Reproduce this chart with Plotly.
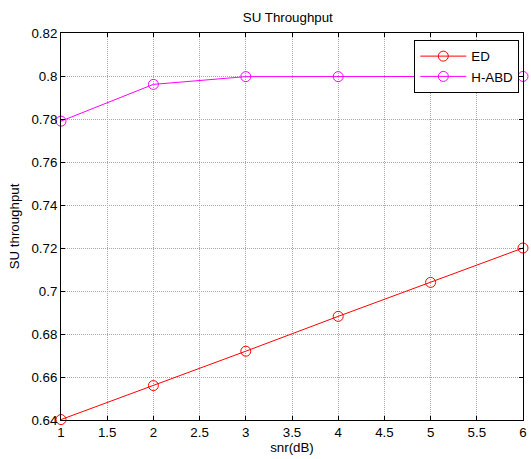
import plotly.graph_objects as go

snr = [1, 2, 3, 4, 5, 6]
ed = [0.6402, 0.6560, 0.6720, 0.6882, 0.7040, 0.7200]
habd = [0.7790, 0.7961, 0.7997, 0.7997, 0.7998, 0.7998]

x_ticks = [1, 1.5, 2, 2.5, 3, 3.5, 4, 4.5, 5, 5.5, 6]
x_text = ["1", "1.5", "2", "2.5", "3", "3.5", "4", "4.5", "5", "5.5", "6"]
y_ticks = [0.64, 0.66, 0.68, 0.70, 0.72, 0.74, 0.76, 0.78, 0.80, 0.82]
y_text = ["0.64", "0.66", "0.68", "0.7", "0.72", "0.74", "0.76", "0.78", "0.8", "0.82"]

FS = 13.3

fig = go.Figure()
fig.add_trace(go.Scatter(
    x=snr, y=ed, name="ED", mode="lines+markers",
    line=dict(color="#ff0000", width=1),
    marker=dict(symbol="circle-open", size=10, color="#ff0000", line=dict(width=1)),
    cliponaxis=False,
))
fig.add_trace(go.Scatter(
    x=snr, y=habd, name="H-ABD", mode="lines+markers",
    line=dict(color="#ff00ff", width=1),
    marker=dict(symbol="circle-open", size=10, color="#ff00ff", line=dict(width=1)),
    cliponaxis=False,
))

axis_common = dict(
    showline=True, linecolor="black", linewidth=1, mirror="ticks",
    ticks="inside", ticklen=4, tickcolor="black",
    showgrid=True, gridcolor="#a8a8a8", griddash="1px,1px", gridwidth=1,
    zeroline=False,
    tickfont=dict(family="Liberation Sans, Arial, sans-serif", size=FS, color="black"),
)

fig.update_layout(
    width=531, height=459,
    margin=dict(l=61, r=4, t=33, b=39),
    paper_bgcolor="white", plot_bgcolor="white",
    font=dict(family="Liberation Sans, Arial, sans-serif", size=FS, color="black"),
    title=dict(text="SU Throughput", x=0.542, xanchor="center", y=0.962, yanchor="middle",
               font=dict(size=FS, color="black")),
    showlegend=True,
    legend=dict(x=0.992, xanchor="right", y=0.982, yanchor="top",
                bgcolor="white", bordercolor="black", borderwidth=1,
                font=dict(size=FS, color="black"), tracegroupgap=0,
                itemwidth=46),
    xaxis=dict(range=[1, 6], tickvals=x_ticks, ticktext=x_text,
               title=dict(text="snr(dB)", standoff=3, font=dict(size=FS)), **axis_common),
    yaxis=dict(range=[0.64, 0.82], tickvals=y_ticks, ticktext=y_text,
               title=dict(text="SU throughput", standoff=8, font=dict(size=FS)), **axis_common),
)

fig.write_html("out.html", config={"displayModeBar": False},
               post_script="document.body.style.margin='0';document.body.style.overflow='hidden';")
